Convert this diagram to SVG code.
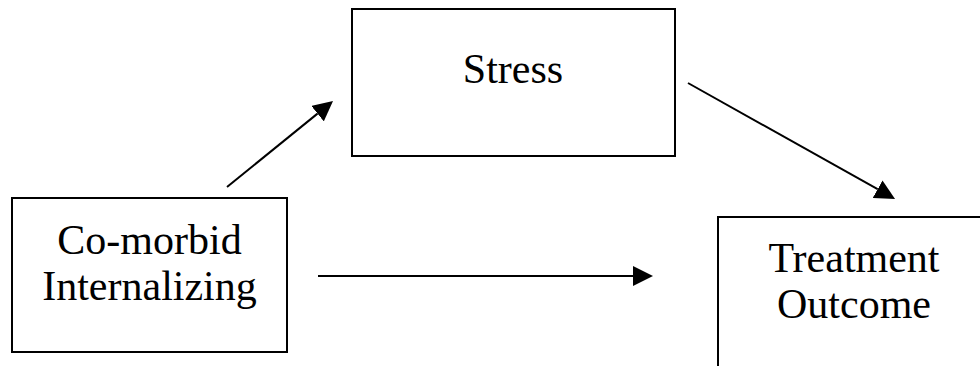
<svg xmlns="http://www.w3.org/2000/svg" width="980" height="366" viewBox="0 0 980 366">
<style>
.box{fill:#fff;stroke:#000;stroke-width:2}
.lbl{font-family:"Liberation Serif","Times New Roman",serif;font-size:42px;fill:#000;text-anchor:middle}
.conn{stroke:#000;stroke-width:2;fill:none;marker-end:url(#ah)}
</style>
<defs>
<marker id="ah" markerUnits="userSpaceOnUse" markerWidth="20" markerHeight="20" refX="0" refY="10" orient="auto" viewBox="0 0 20 20">
<path d="M0,0 L20,10 L0,20 z" fill="#000"/>
</marker>
</defs>
<rect width="980" height="366" fill="#fff"/>
<g id="stress">
<rect class="box" x="352" y="9" width="323" height="147"/>
<text class="lbl" x="513" y="83">Stress</text>
</g>
<g id="comorbid">
<rect class="box" x="12" y="198" width="275" height="154"/>
<text class="lbl" x="149.5" y="254">Co-morbid</text>
<text class="lbl" x="149.5" y="300">Internalizing</text>
</g>
<g id="outcome">
<rect class="box" x="718" y="217" width="280" height="170"/>
<text class="lbl" x="854" y="272">Treatment</text>
<text class="lbl" x="854" y="318">Outcome</text>
</g>
<g id="connectors">
<line class="conn" x1="227" y1="187" x2="317.5" y2="113.6"/>
<line class="conn" x1="688" y1="83" x2="877.6" y2="189.2"/>
<line class="conn" x1="318" y1="276" x2="633" y2="276"/>
</g>
</svg>
